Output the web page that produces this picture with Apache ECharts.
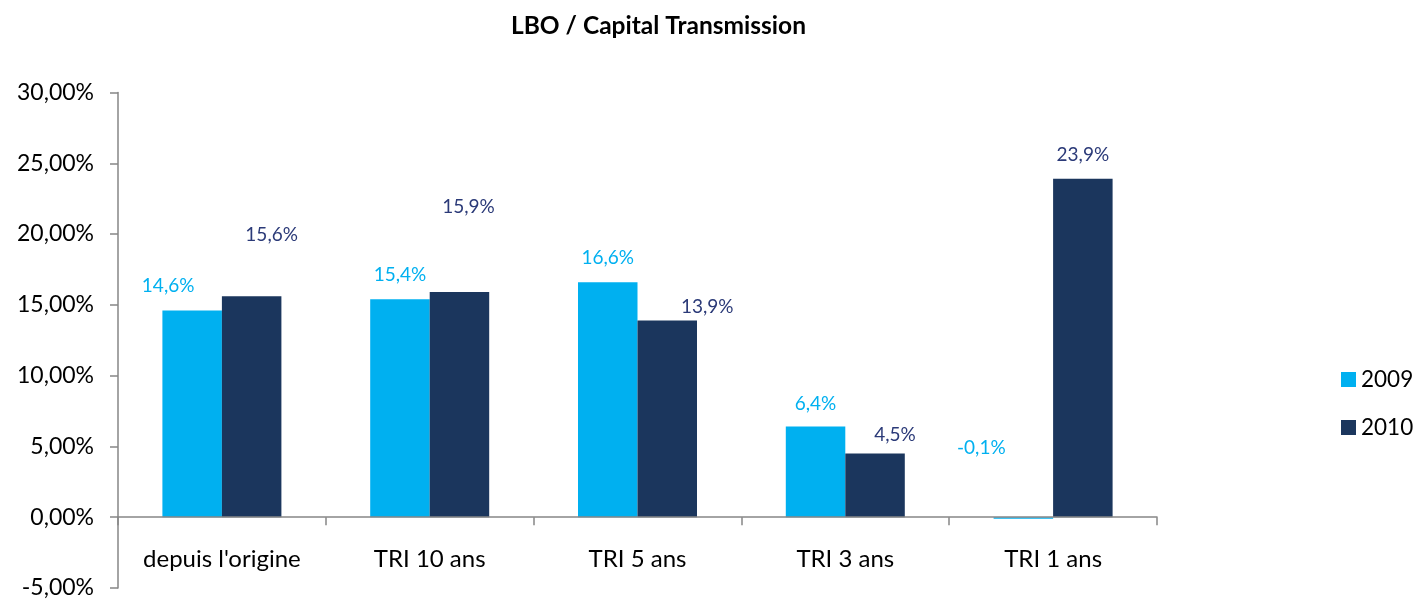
<!DOCTYPE html>
<html>
<head>
<meta charset="utf-8">
<script src="https://cdn.jsdelivr.net/npm/echarts@6/dist/echarts.min.js"></script>
<style>html,body{margin:0;padding:0;background:#fff;}#c{width:1414px;height:599px;}</style>
</head>
<body>
<div id="c"></div>
<script>
const titleText = 'LBO / Capital Transmission';
const categories = ["depuis l'origine", 'TRI 10 ans', 'TRI 5 ans', 'TRI 3 ans', 'TRI 1 ans'];
const seriesNames = ['2009', '2010'];
const values2009 = [14.6, 15.4, 16.6, 6.4, -0.1];
const values2010 = [15.6, 15.9, 13.9, 4.5, 23.9];
const yMin = -5, yMax = 30, yStep = 5;

// label placement tweaks (manual positions in the original), kept apart from data
const labelOffsets2009 = [[-24, -16], [0, -15], [0, -15], [0, -14], [-42, -60]];
const labelOffsets2010 = [[20, -52], [9, -76], [40, -5], [20, -10], [0, -15]];

const FONT = 'Lato';
const c2009 = '#00B0F0', c2010 = '#1B365D';
const lab2009 = '#00B0F0', lab2010 = '#2B3A78';

const gridTop = 92.5, gridBottom = 11, chartH = 599;
const plotH = chartH - gridTop - gridBottom;
// x axis sits on the zero line: shift it up from the grid bottom
const zeroShift = plotH * (0 - yMin) / (yMax - yMin);

function fmtLabel(v) { return v.toFixed(1).replace('.', ',') + '%'; }

function buildData(vals, offs) {
  return vals.map((v, i) => ({
    value: v,
    label: { offset: offs[i] }
  }));
}

const chart = echarts.init(document.getElementById('c'), null, { renderer: 'canvas' });
chart.setOption({
  animation: false,
  backgroundColor: '#ffffff',
  title: {
    text: titleText,
    left: 506, top: 9,
    textStyle: { fontFamily: FONT, fontWeight: 'bold', fontSize: 24.5, color: '#000' }
  },
  legend: {
    orient: 'vertical',
    left: 1336, top: 363,
    itemWidth: 15, itemHeight: 15, itemGap: 25,
    itemTextGap: 6,
    icon: 'rect',
    data: seriesNames,
    textStyle: { fontFamily: FONT, fontSize: 22.5, color: '#000', lineHeight: 23 }
  },
  grid: { left: 118, right: 257, top: gridTop, bottom: gridBottom, containLabel: false, outerBoundsMode: 'none' },
  xAxis: {
    type: 'category',
    data: categories,
    offset: -zeroShift,
    z: 5,
    axisLine: { onZero: false, lineStyle: { color: '#868686', width: 1.5 } },
    axisTick: { show: true, length: 8, alignWithLabel: false, interval: 0, lineStyle: { color: '#868686', width: 1.5 } },
    axisLabel: { interval: 0, margin: 30, fontFamily: FONT, fontSize: 24, color: '#000' },
    splitLine: { show: false }
  },
  yAxis: {
    type: 'value',
    min: yMin, max: yMax, interval: yStep,
    axisLine: { show: true, lineStyle: { color: '#868686', width: 1.5 } },
    axisTick: { show: true, length: 8, lineStyle: { color: '#868686', width: 1.5 } },
    axisLabel: {
      margin: 24, fontFamily: FONT, fontSize: 23, color: '#000',
      formatter: v => v.toFixed(2).replace('.', ',') + '%'
    },
    splitLine: { show: false }
  },
  series: [
    {
      name: seriesNames[0], type: 'bar', barWidth: 59.5, barGap: '0%',
      itemStyle: { color: c2009 },
      label: { show: true, position: 'top', distance: 0, fontFamily: FONT, fontSize: 19, lineHeight: 18, color: lab2009, formatter: p => fmtLabel(p.value) },
      data: buildData(values2009, labelOffsets2009)
    },
    {
      name: seriesNames[1], type: 'bar', barWidth: 59.5, barGap: '0%',
      itemStyle: { color: c2010 },
      label: { show: true, position: 'top', distance: 0, fontFamily: FONT, fontSize: 19, lineHeight: 18, color: lab2010, formatter: p => fmtLabel(p.value) },
      data: buildData(values2010, labelOffsets2010)
    }
  ]
});
</script>
</body>
</html>
